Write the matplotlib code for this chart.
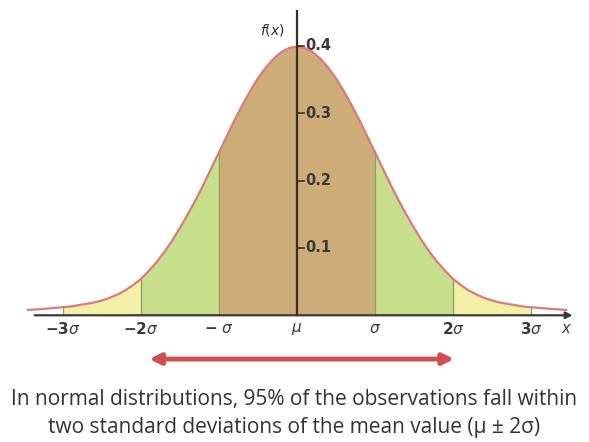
import matplotlib.pyplot as plt
import numpy as np

# curve (right half, in sigma units); the picture is symmetric
half_x = [0.0, 0.1, 0.2, 0.3, 0.4, 0.5, 0.6, 0.7, 0.8, 0.9, 1.0, 1.1, 1.2, 1.3, 1.4, 1.5, 1.6,
          1.7, 1.8, 1.9, 2.0, 2.1, 2.2, 2.3, 2.4, 2.5, 2.6, 2.7, 2.8, 2.9, 3.0, 3.1, 3.2, 3.3, 3.45]
half_y = [0.399, 0.397, 0.391, 0.381, 0.368, 0.352, 0.333, 0.312, 0.290, 0.266, 0.242, 0.218,
          0.194, 0.171, 0.150, 0.130, 0.111, 0.094, 0.079, 0.066, 0.054, 0.045, 0.037, 0.031,
          0.026, 0.022, 0.019, 0.017, 0.015, 0.013, 0.012, 0.011, 0.010, 0.009, 0.008]

xtick_pos = [-3, -2, -1, 0, 1, 2, 3]
xtick_lab = [r'$\mathbf{-3}\sigma$', r'$\mathbf{-2}\sigma$', r'$\mathbf{-}\ \sigma$', r'$\mu$',
             r'$\sigma$', r'$\mathbf{2}\sigma$', r'$\mathbf{3}\sigma$']
ytick_pos = [0.1, 0.2, 0.3, 0.4]
ytick_lab = ['0.1', '0.2', '0.3', '0.4']

bands = [(-3, -2, '#f4f0a8'), (-2, -1, '#c7df8c'), (-1, 1, '#cdac78'),
         (1, 2, '#c7df8c'), (2, 3, '#f4f0a8')]

caption = ['In normal distributions, 95% of the observations fall within',
           'two standard deviations of the mean value (\u03bc \u00b1 2\u03c3)']

x = np.array([-v for v in half_x[::-1]] + half_x[1:])
y = np.array(half_y[::-1] + half_y[1:])

fig = plt.figure(figsize=(5.89, 4.42), dpi=100)
ax = fig.add_axes([0, 0, 1, 1])
ax.set_xlim(-297 / 78, 292 / 78)
ax.set_ylim(-127 / 675, 316 / 675)
ax.axis('off')

for lo, hi, col in bands:
    m = (x >= lo - 1e-9) & (x <= hi + 1e-9)
    ax.fill_between(x[m], 0, y[m], color=col, lw=0)

for p in xtick_pos:
    if p != 0:
        yy = np.interp(p, x, y)
        ax.plot([p, p], [0, yy], color='#86a060', lw=0.9)

ax.plot(x, y, color='#d97b7b', lw=1.6, zorder=4)

# axes
ax.annotate('', xy=(3.57, 0), xytext=(-3.4, 0),
            arrowprops=dict(arrowstyle='-|>', color='#3a3a3a', lw=1.6, mutation_scale=10))
ax.plot([0, 0], [0, 0.452], color='#3a3020', lw=1.6, zorder=5)

for p, lab in zip(xtick_pos, xtick_lab):
    ax.text(p, -0.02, lab, ha='center', va='center', fontsize=11, color='#3a3a3a')
ax.text(3.45, -0.02, r'$x$', ha='center', va='center', fontsize=10.5, color='#3a3a3a')

for p, lab in zip(ytick_pos, ytick_lab):
    ax.plot([0, 0.09], [p, p], color='#3a3020', lw=1.2, zorder=5)
    ax.text(0.11, p, lab, ha='left', va='center', fontsize=10.5, fontweight='bold', color='#3a3a3a')
ax.text(-0.31, 0.424, r'$f(x)$', ha='center', va='center', fontsize=10, color='#2c2c2c')

# 95% arrow
ax.annotate('', xy=(2.05, -0.065), xytext=(-1.93, -0.065),
            arrowprops=dict(arrowstyle='<|-|>', color='#cf4f4f', lw=3.5, mutation_scale=16))

fig.text(0.5, 1 - 400 / 442, caption[0], ha='center', va='center', fontsize=15,
         family='Open Sans', color='#333333')
fig.text(0.5, 1 - 428 / 442, caption[1], ha='center', va='center', fontsize=15,
         family='Open Sans', color='#333333')

fig.savefig('out.png', dpi=100, facecolor='white')
